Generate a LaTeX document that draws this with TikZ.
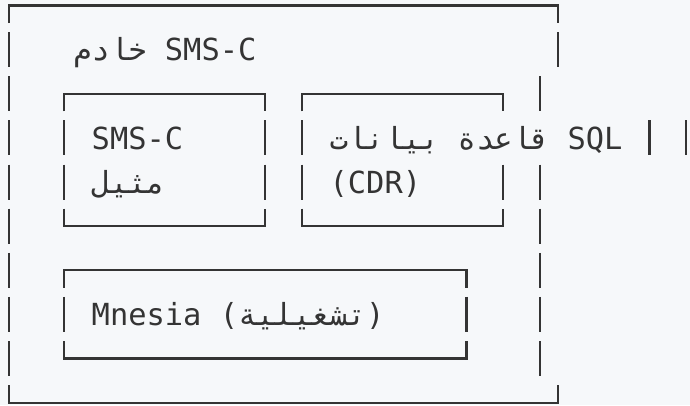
\documentclass[tikz,border=0pt]{standalone}
\usepackage{fontspec}
\newfontfamily\monofont{DejaVu Sans Mono}
\newfontfamily\arabicmono[Script=Arabic]{DejaVu Sans Mono}
\TeXXeTstate=1
\definecolor{bgcol}{RGB}{246,248,250}
\definecolor{inkcol}{RGB}{52,52,52}
\begin{document}
\begin{tikzpicture}[x=0.366cm, y=-0.8826cm,
	ln/.style={draw=inkcol, line width=1.3pt},
	txt/.style={anchor=base west, inner sep=0pt, text=inkcol, font=\fontsize{17.3pt}{20pt}\monofont}]
	% background
	\fill[bgcol] (-0.492,-0.125) rectangle (37.213,9.053);
	\useasboundingbox (-0.492,-0.125) rectangle (37.213,9.053);

	% outer box
	\draw[ln] (0,0.397) -- (0,0) -- (30,0) -- (30,0.397);
	\draw[ln] (0,8.603) -- (0,9) -- (30,9) -- (30,8.603);

	% instance box
	\draw[ln] (3,2.397) -- (3,2) -- (14,2) -- (14,2.397);
	\draw[ln] (3,4.603) -- (3,5) -- (14,5) -- (14,4.603);

	% cdr box
	\draw[ln] (16,2.397) -- (16,2) -- (27,2) -- (27,2.397);
	\draw[ln] (16,4.603) -- (16,5) -- (27,5) -- (27,4.603);

	% mnesia box
	\draw[ln] (3,6.397) -- (3,6) -- (25,6) -- (25,6.397);
	\draw[ln] (3,7.603) -- (3,8) -- (25,8) -- (25,7.603);

	% vertical bars, one per text row
	\foreach \c/\r in {0/1,0/2,0/3,0/4,0/5,0/6,0/7,0/8,
		30/1,29/2,29/4,29/5,29/6,29/7,29/8,35/3,37/3,
		3/3,3/4,14/3,14/4,16/3,16/4,27/4,3/7,25/7}
		\draw[ln] (\c,\r-0.397) -- (\c,\r+0.397);

	% labels
	\node[txt] (server) at (3.5,1.255) {{\arabicmono\beginR خادم\endR} SMS-C};
	\node[txt] (inst) at (4.5,3.255) {SMS-C};
	\node[txt] (instar) at (4.5,4.255) {\arabicmono\beginR مثيل\endR};
	\node[txt] (sqldb) at (17.5,3.255) {{\arabicmono\beginR قاعدة بيانات\endR} SQL};
	\node[txt] (cdr) at (17.5,4.255) {(CDR)};
	\node[txt] (mnesia) at (4.5,7.255) {Mnesia ({\arabicmono\beginR تشغيلية\endR})};
\end{tikzpicture}
\end{document}
